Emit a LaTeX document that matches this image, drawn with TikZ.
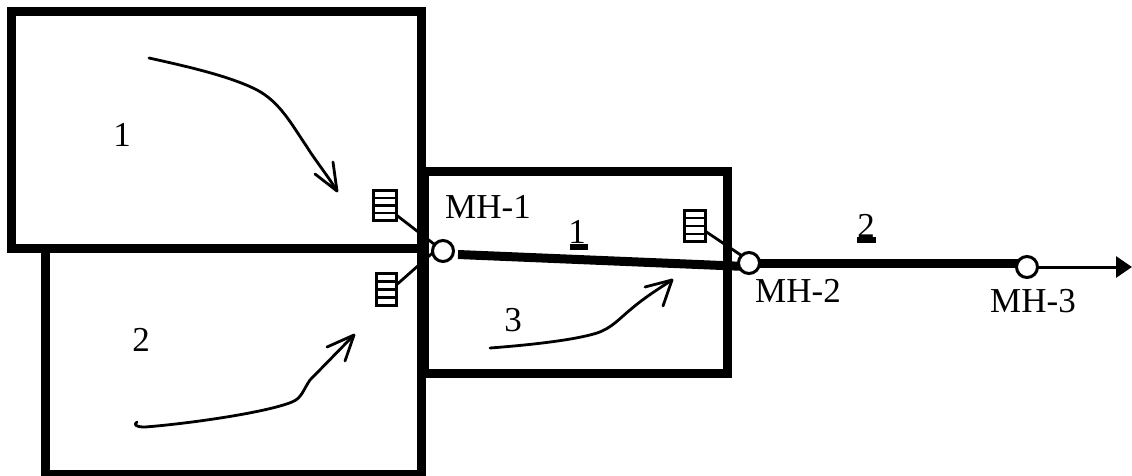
\documentclass[tikz,border=0pt]{standalone}
\usepackage{fontspec}
\setmainfont{Liberation Serif}
\usetikzlibrary{calc,arrows.meta}
\pgfdeclarelayer{under}
\pgfsetlayers{under,main}
\tikzset{
  zone/.style={draw=black,line width=9pt,fill=none,inner sep=0pt,outer sep=0pt},
  manhole/.style={circle,draw=black,line width=3pt,fill=white,minimum size=21pt,inner sep=0pt,outer sep=0pt},
  inlet/.style={draw=black,line width=3pt,fill=white,inner sep=0pt,outer sep=0pt,
    path picture={\foreach \f in {0.25,0.5,0.75}{\draw[line width=2.4pt] ($(path picture bounding box.south west)!\f!(path picture bounding box.north west)$) -- ($(path picture bounding box.south east)!\f!(path picture bounding box.north east)$);}}},
  lbl/.style={font=\fontsize{35}{35}\selectfont,inner sep=0pt},
  pipe/.style={line width=9pt,draw=black},
  lead/.style={line width=2.8pt,draw=black},
  flow/.style={line width=2.8pt,draw=black,line cap=round,line join=round},
  ubar/.style={fill=black,draw=none,inner sep=0pt,minimum height=6pt},
}
\begin{document}
\begin{tikzpicture}[x=1pt,y=-1pt]
\begin{pgfonlayer}{under}
\fill[white] (0,0) rectangle (1132,476);
\end{pgfonlayer}
\useasboundingbox (0,0) rectangle (1132,476);
% zones
\node[zone,minimum width=410pt,minimum height=237pt] (zoneA) at (216.5,130) {};
\node[zone,minimum width=376pt,minimum height=226pt] (zoneB) at (233.5,361.5) {};
\node[zone,minimum width=303pt,minimum height=202pt] (zoneC) at (576,272.5) {};
% inlets
\node[inlet,minimum width=23pt,minimum height=30pt] (in1) at (385,205.5) {};
\node[inlet,minimum width=20pt,minimum height=32pt] (in2) at (386.5,289.5) {};
\node[inlet,minimum width=21pt,minimum height=31pt] (in3) at (695,226) {};
% manholes
\node[manhole] (mh1) at (443,251) {};
\node[manhole] (mh2) at (749,263) {};
\node[manhole] (mh3) at (1027,267) {};
% free ends of the collector
\coordinate (s1) at (458,254.5);
\coordinate (s2) at (746,266.5);
\coordinate (s3) at (1027,263.5);
\coordinate (tip) at (1132,267);
% leads and pipes, under the manholes
\begin{pgfonlayer}{under}
\draw[lead] (in1.-40) -- (mh1);
\draw[lead] (in2.25) -- (mh1.190);
\draw[lead] (in3.-27) -- (mh2.north west);
\draw[pipe] (s1) -- (s2);
\draw[pipe] (mh2.center |- s3) -- (s3);
\draw[line width=3pt,-{Triangle[length=16pt,width=21pt]}] (mh3) -- (tip);
\end{pgfonlayer}
% flows
\draw[flow] (149,58) .. controls (185,66) and (230,76) .. (257,90) .. controls (280,102) and (292,125) .. (307,147) .. controls (315,160) and (328,176) .. (337,191);
\draw[flow] (315,174) -- (337,191) -- (333,162);
\draw[flow] (137,422) .. controls (134,424) and (134,427) .. (145,427) .. controls (185,424) and (265,413) .. (292,402) .. controls (302,398) and (303,390) .. (310,380) -- (354,335);
\draw[flow] (327,347) -- (354,335) -- (345,361);
\draw[flow] (490,348) .. controls (530,345) and (575,340) .. (597,333) .. controls (612,328) and (620,318) .. (630,310) .. controls (645,297) and (660,288) .. (672,280);
\draw[flow] (645,287) -- (672,280) -- (663,306);
% labels
\node[lbl] (t1) at (122,135) {1};
\node[lbl] (t2) at (141,340) {2};
\node[lbl] (t3) at (513,320) {3};
\node[lbl] (tm1) at (488,207) {MH-1};
\node[lbl] (tm2) at (798,291) {MH-2};
\node[lbl] (tm3) at (1033,301) {MH-3};
\node[lbl] (tp1) at (577,232) {1};
\node[ubar,minimum width=18pt] (b1) at (579,247) {};
\node[lbl] (tp2) at (866,226) {2};
\node[ubar,minimum width=19pt] (b2) at (866.5,240) {};
\end{tikzpicture}
\end{document}
